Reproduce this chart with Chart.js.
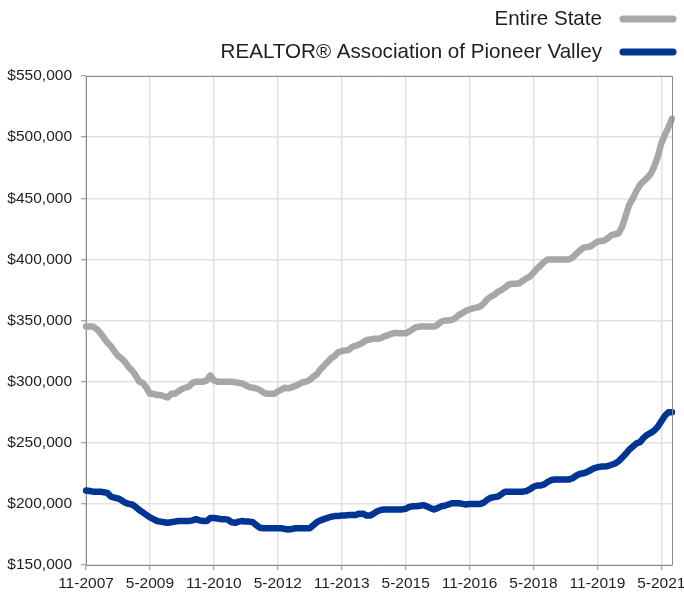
<!DOCTYPE html>
<html>
<head>
<meta charset="utf-8">
<script src="https://cdn.jsdelivr.net/npm/chart.js@4/dist/chart.umd.min.js"></script>
<style>
	html, body { margin: 0; padding: 0; background: #fff; }
	canvas { display: block; }
</style>
</head>
<body>
<canvas id="medianPriceChart" width="684" height="592"></canvas>
<script>
// months shown, first one is 11-2007, last one 8-2021
var firstMonth = 11;
var firstYear = 2007;
var monthCount = 166;

var tickLabels = ['11-2007', '5-2009', '11-2010', '5-2012', '11-2013', '5-2015', '11-2016', '5-2018', '11-2019', '5-2021'];

var seriesNames = ['Entire State', 'REALTOR\u00AE Association of Pioneer Valley'];

var entireState = [
	345000, 345000, 345000, 343000, 340000, 336000, 332000, 329000, 325000, 321000,
	319000, 316000, 312000, 309000, 305000, 300000, 299000, 295000, 290000, 290000,
	289000, 289000, 288000, 287000, 290000, 290000, 292000, 294000, 295000, 296000,
	299000, 300000, 300000, 300000, 301000, 305000, 301000, 300000, 300000, 300000,
	300000, 300000, 299500, 299000, 298500, 297000, 295500, 295000, 294500, 293000,
	291000, 290000, 290000, 290000, 292000, 293500, 295000, 294500, 295500, 296500,
	298000, 299500, 300000, 301500, 304000, 306000, 310000, 313000, 316000, 319000,
	321000, 324000, 325000, 325500, 326000, 328500, 329500, 330500, 332000, 334000,
	334500, 335000, 335000, 335500, 337000, 338000, 339000, 340000, 339500, 339500,
	339500, 341000, 343000, 344500, 345000, 345000, 345000, 345000, 345000, 346500,
	349000, 350000, 350000, 350500, 352000, 354500, 356000, 358000, 359000, 360000,
	360500, 361500, 364000, 367500, 369500, 371000, 373500, 375000, 377000, 379500,
	380000, 380000, 380500, 382500, 384500, 386000, 389000, 392500, 395000, 398000,
	400000, 400000, 400000, 400000, 400000, 400000, 400000, 401500, 404500, 407000,
	409500, 410000, 410500, 412500, 414500, 415000, 415500, 417500, 420000, 420500,
	421500, 427000, 436000, 445000, 450000, 456000, 461000, 464000, 466500, 470000,
	476000, 484000, 495000, 502000, 508000, 515000
];

var pioneerValley = [
	211000, 210500, 210000, 210000, 210000, 209500, 209000, 206000, 205000, 204500,
	203000, 201000, 200000, 199500, 197500, 195000, 193000, 191000, 189000, 187500,
	186000, 185500, 185000, 184500, 185000, 185500, 186000, 186000, 186000, 186000,
	186500, 187500, 186500, 186000, 186000, 188500, 188500, 188000, 187500, 187500,
	187000, 185000, 184500, 185500, 186000, 185500, 185500, 185000, 182500, 180500,
	180000, 180000, 180000, 180000, 180000, 180000, 179500, 179000, 179500, 180000,
	180000, 180000, 180000, 180000, 182500, 185000, 186500, 187500, 188500, 189500,
	190000, 190000, 190500, 190500, 191000, 191000, 191000, 192000, 192000, 190500,
	190500, 192000, 194000, 195000, 195500, 195500, 195500, 195500, 195500, 195500,
	196000, 197500, 198000, 198000, 198500, 199000, 198000, 196500, 195500, 196500,
	198000, 198500, 199500, 200500, 200500, 200500, 200000, 199500, 200000, 200000,
	200000, 200000, 201000, 203500, 205000, 205500, 206000, 208000, 210000, 210000,
	210000, 210000, 210000, 210000, 210500, 212000, 214000, 215000, 215000, 216000,
	218000, 219500, 220000, 220000, 220000, 220000, 220000, 221000, 223000, 224500,
	225000, 226000, 227500, 229000, 230000, 230500, 230500, 231000, 232000, 233000,
	235000, 238000, 241000, 244500, 247000, 249500, 250500, 254000, 256500, 258000,
	260000, 263000, 267500, 272000, 275000, 275000
];

var months = [];
for (var i = 0; i < monthCount; i++) {
	var m = (firstMonth - 1 + i) % 12 + 1;
	var y = firstYear + Math.floor((firstMonth - 1 + i) / 12);
	months.push(m + '-' + y);
}

var fontFamily = '"Liberation Sans", Arial, Helvetica, sans-serif';
var axisColor = '#8a8a8a';
var gridColor = '#e2e2e2';
var textColor = '#1e1e1e';

// top and right border of the plot box + legend with the line on the right side
var frameAndLegend = {
	id: 'frameAndLegend',
	afterDraw: function(chart) {
		var ctx = chart.ctx;
		var area = chart.chartArea;
		ctx.save();
		ctx.strokeStyle = axisColor;
		ctx.lineWidth = 1;
		ctx.beginPath();
		ctx.moveTo(area.left, area.top + 0.5);
		ctx.lineTo(area.right + 0.5, area.top + 0.5);
		ctx.lineTo(area.right + 0.5, area.bottom);
		ctx.stroke();

		ctx.font = '20.6px ' + fontFamily;
		ctx.fillStyle = textColor;
		ctx.textAlign = 'right';
		ctx.textBaseline = 'middle';
		chart.data.datasets.forEach(function(ds, idx) {
			var rowY = 19 + idx * 33;
			ctx.fillText(ds.label, 602, rowY);
			ctx.strokeStyle = ds.borderColor;
			ctx.lineWidth = 7;
			ctx.lineCap = 'round';
			ctx.beginPath();
			ctx.moveTo(623, rowY);
			ctx.lineTo(673, rowY);
			ctx.stroke();
		});
		ctx.restore();
	}
};

var ctx = document.getElementById('medianPriceChart').getContext('2d');
var medianPriceChart = new Chart(ctx, {
	type: 'line',
	data: {
		labels: months,
		datasets: [{
			label: seriesNames[0],
			data: entireState,
			borderColor: '#a7a7a7',
			backgroundColor: '#a7a7a7',
			borderWidth: 6.5,
			pointRadius: 0,
			borderJoinStyle: 'round',
			borderCapStyle: 'round',
			tension: 0
		}, {
			label: seriesNames[1],
			data: pioneerValley,
			borderColor: '#003594',
			backgroundColor: '#003594',
			borderWidth: 6.5,
			pointRadius: 0,
			borderJoinStyle: 'round',
			borderCapStyle: 'round',
			tension: 0
		}]
	},
	options: {
		responsive: false,
		animation: false,
		devicePixelRatio: 1,
		layout: {
			padding: { top: 76, right: 12, bottom: 0, left: 0 }
		},
		plugins: {
			legend: { display: false },
			tooltip: { enabled: false }
		},
		scales: {
			x: {
				type: 'category',
				offset: false,
				grid: {
					color: gridColor,
					lineWidth: 1.5,
					tickColor: axisColor,
					tickLength: 5,
					tickWidth: 1
				},
				border: { color: axisColor, width: 1 },
				ticks: {
					autoSkip: false,
					maxRotation: 0,
					padding: 4,
					color: textColor,
					font: { family: fontFamily, size: 15.5 },
					callback: function(value, index) {
						var lbl = months[index];
						return tickLabels.indexOf(lbl) >= 0 ? lbl : null;
					}
				},
				afterFit: function(scale) {
					scale.height = 27;
					scale.paddingLeft = 0;
					scale.paddingRight = 0;
				}
			},
			y: {
				min: 150000,
				max: 550000,
				grid: {
					color: gridColor,
					lineWidth: 1.5,
					tickColor: axisColor,
					tickLength: 5,
					tickWidth: 1
				},
				border: { color: axisColor, width: 1 },
				ticks: {
					stepSize: 50000,
					padding: 9,
					color: textColor,
					font: { family: fontFamily, size: 15.5 },
					callback: function(value) {
						return '$' + value.toLocaleString('en-US');
					}
				},
				afterFit: function(scale) { scale.width = 86; }
			}
		}
	},
	plugins: [frameAndLegend]
});
</script>
</body>
</html>
